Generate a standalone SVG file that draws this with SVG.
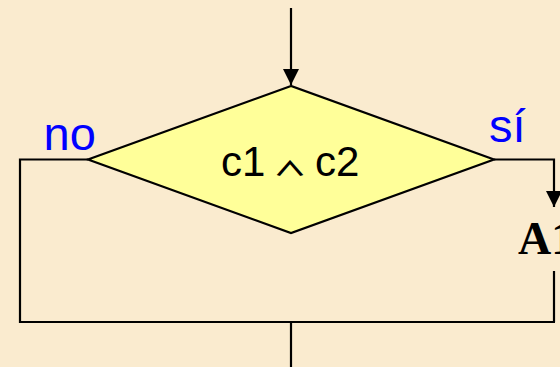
<svg xmlns="http://www.w3.org/2000/svg" width="560" height="367" viewBox="0 0 560 367">
  <style>
    .conn { fill: none; stroke: #000; stroke-width: 2.2; }
    .lbl { font-family: "Liberation Sans", Arial, sans-serif; fill: #0000FF; font-size: 47px; }
    .cond { font-family: "Liberation Sans", Arial, sans-serif; fill: #000; font-size: 42px; }
    .act { font-family: "Liberation Serif", "Times New Roman", serif; font-weight: bold; fill: #000; font-size: 46px; }
  </style>
  <defs>
    <marker id="arrow" markerUnits="userSpaceOnUse" markerWidth="16" markerHeight="17" refX="16" refY="8" orient="auto" viewBox="0 0 16 16">
      <path d="M0,0 L16,8 L0,16 Z" fill="#000"/>
    </marker>
  </defs>
  <rect x="0" y="0" width="560" height="367" fill="#FAEBCF"/>
  <g id="connectors">
    <line class="conn" x1="291" y1="8" x2="291" y2="85" marker-end="url(#arrow)"/>
    <polyline class="conn" points="88,159.5 20,159.5 20,322 555,322"/>
    <polyline class="conn" points="494,159.5 554,159.5 554,207" marker-end="url(#arrow)"/>
    <line class="conn" x1="554" y1="271" x2="554" y2="322"/>
    <line class="conn" x1="291" y1="322" x2="291" y2="367"/>
    <text class="lbl" x="43.5" y="150">no</text>
    <text class="lbl" x="489" y="142">sí</text>
  </g>
  <g id="decision">
    <polygon points="291,86 88,159.5 291,233 494,159.5" fill="#FFFF99" stroke="#000" stroke-width="2.2"/>
    <text class="cond" y="175.5"><tspan x="221">c1</tspan><tspan x="315">c2</tspan></text>
    <text transform="translate(290,175.5) scale(1,0.6)" text-anchor="middle" font-family="Noto Sans CJK JP, sans-serif" font-weight="bold" font-size="34" fill="#000">∧</text>
  </g>
  <g id="action-A1">
    <text class="act" x="518" y="254">A1</text>
  </g>
</svg>
